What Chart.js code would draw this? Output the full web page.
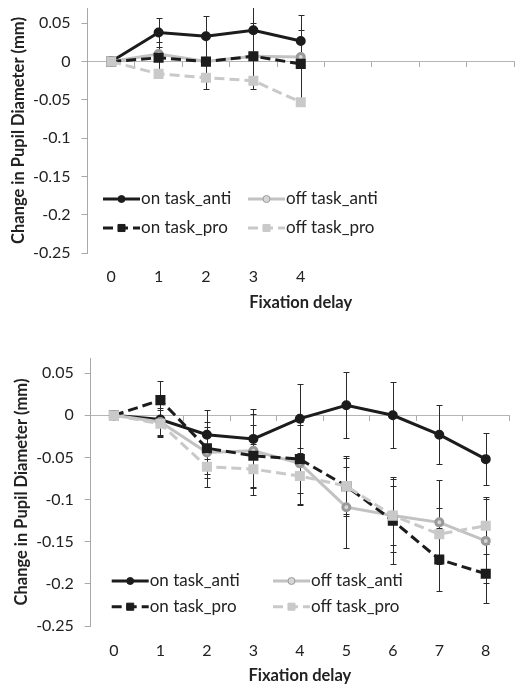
<!DOCTYPE html>
<html>
<head>
<meta charset="utf-8">
<title>Change in Pupil Diameter</title>
<script src="https://cdn.jsdelivr.net/npm/chart.js@4.4.1/dist/chart.umd.min.js"></script>
<style>
  html, body { margin: 0; padding: 0; background: #fff; overflow: hidden; }
  canvas { position: absolute; left: 0; }
  #topChart { top: 0; }
  #bottomChart { top: 340px; }
</style>
</head>
<body>
<canvas id="topChart" width="522" height="320"></canvas>
<canvas id="bottomChart" width="517" height="348"></canvas>
<script>
// categories (fixation delay)
const delays = ['0', '1', '2', '3', '4', '5', '6', '7', '8'];
const topDelays = ['0', '1', '2', '3', '4', '', '', '', ''];
const seriesNames = ['on task_anti', 'off task_anti', 'on task_pro', 'off task_pro'];
const yTickValues = [-0.25, -0.2, -0.15, -0.1, -0.05, 0, 0.05];

// top panel values
const topOnAnti = [0, 0.038, 0.033, 0.041, 0.027];
const topOffAnti = [0, 0.010, 0.000, 0.007, 0.006];
const topOnPro = [0, 0.005, 0.000, 0.007, -0.003];
const topOffPro = [0, -0.016, -0.021, -0.025, -0.053];
const topOnAntiErr = [0, 0.019, 0.027, 0.032, 0.034];
const topOnProErr = [0, 0.020, 0.036, 0.043, 0.044];

// bottom panel values
const onAnti = [0, -0.005, -0.023, -0.028, -0.004, 0.012, 0.000, -0.023, -0.052];
const offAnti = [0, -0.008, -0.044, -0.042, -0.057, -0.109, -0.119, -0.127, -0.149];
const onPro = [0, 0.018, -0.039, -0.048, -0.052, -0.084, -0.125, -0.171, -0.188];
const offPro = [0, -0.010, -0.061, -0.064, -0.072, -0.084, -0.119, -0.141, -0.131];
const onAntiErr = [0, 0.018, 0.029, 0.035, 0.041, 0.039, 0.039, 0.035, 0.031];
const offAntiErr = [0, 0.017, 0.030, 0.044, 0.049, 0.048, 0.035, 0.050, 0.050];
const onProErr = [0, 0.023, 0.031, 0.037, 0.040, 0.036, 0.052, 0.037, 0.035];
const offProErr = [0, 0.016, 0.024, 0.030, 0.033, 0.033, 0.043, 0.031, 0.034];

const FONT = 'Lato';
const TEXT = '#222';

// vertical error bars with caps, drawn under the lines
const errorBars = {
  id: 'errorBars',
  beforeDatasetsDraw(chart) {
    const { ctx, chartArea, scales: { x, y } } = chart;
    ctx.save();
    ctx.beginPath();
    ctx.rect(chartArea.left, chartArea.top, chartArea.right - chartArea.left, chartArea.bottom - chartArea.top);
    ctx.clip();
    ctx.strokeStyle = '#2a2a2a';
    ctx.lineWidth = 1;
    chart.data.datasets.forEach(ds => {
      if (!ds.errors) return;
      ds.data.forEach((v, i) => {
        const e = ds.errors[i];
        if (v == null || !e) return;
        const px = Math.round(x.getPixelForValue(i)) + 0.5;
        const yTop = Math.round(y.getPixelForValue(v + e)) + 0.5;
        const yBot = Math.round(y.getPixelForValue(v - e)) + 0.5;
        ctx.beginPath();
        ctx.moveTo(px, yTop); ctx.lineTo(px, yBot);
        ctx.moveTo(px - 3, yTop); ctx.lineTo(px + 3, yTop);
        ctx.moveTo(px - 3, yBot); ctx.lineTo(px + 3, yBot);
        ctx.stroke();
      });
    });
    ctx.restore();
  }
};

// legend inside the plot, 2 x 2, line sample with marker in the middle
const boxLegend = {
  id: 'boxLegend',
  afterDraw(chart, args, opts) {
    const ctx = chart.ctx;
    ctx.save();
    chart.data.datasets.forEach((ds, i) => {
      const x0 = opts.x[i % 2];
      const yy = opts.y[Math.floor(i / 2)];
      const x1 = x0 + opts.sample;
      ctx.strokeStyle = ds.borderColor;
      ctx.lineWidth = ds.borderWidth;
      ctx.setLineDash(ds.borderDash || []);
      ctx.beginPath();
      ctx.moveTo(x0, yy); ctx.lineTo(x1, yy);
      ctx.stroke();
      ctx.setLineDash([]);
      const mx = (x0 + x1) / 2;
      ctx.fillStyle = ds.pointBackgroundColor;
      ctx.strokeStyle = ds.pointBorderColor;
      ctx.lineWidth = 1;
      ctx.beginPath();
      if (ds.pointStyle === 'rect') {
        const s = ds.pointRadius * Math.SQRT1_2;
        ctx.rect(mx - s, yy - s, 2 * s, 2 * s);
      } else {
        ctx.arc(mx, yy, ds.pointRadius, 0, Math.PI * 2);
      }
      ctx.fill();
      ctx.stroke();
      ctx.fillStyle = TEXT;
      ctx.font = '17px ' + FONT;
      ctx.textBaseline = 'middle';
      ctx.fillText(ds.label, x1 + 1, yy);
    });
    ctx.restore();
  }
};

function makeDatasets(a, b, c, d, ea, eb, ec, ed) {
  return [
    { label: seriesNames[0], data: a, errors: ea, order: 4,
      borderColor: '#1c1c1c', borderWidth: 3,
      pointStyle: 'circle', pointRadius: 3.5, pointBackgroundColor: '#1c1c1c', pointBorderColor: '#1c1c1c' },
    { label: seriesNames[1], data: b, errors: eb, order: 3,
      borderColor: '#c2c2c2', borderWidth: 3,
      pointStyle: 'circle', pointRadius: 3.5, pointBackgroundColor: '#d6d6d6', pointBorderColor: '#9a9a9a' },
    { label: seriesNames[2], data: c, errors: ec, order: 2,
      borderColor: '#1c1c1c', borderWidth: 3, borderDash: [10, 5],
      pointStyle: 'rect', pointRadius: 5, pointBackgroundColor: '#1c1c1c', pointBorderColor: '#1c1c1c' },
    { label: seriesNames[3], data: d, errors: ed, order: 1,
      borderColor: '#c9c9c9', borderWidth: 3, borderDash: [10, 5],
      pointStyle: 'rect', pointRadius: 5, pointBackgroundColor: '#c9c9c9', pointBorderColor: '#c9c9c9' }
  ];
}

function makeOptions(cfg) {
  return {
    responsive: false,
    animation: false,
    events: [],
    layout: { padding: cfg.padding },
    elements: { line: { tension: 0 }, point: { borderWidth: 1, hoverRadius: 0 } },
    plugins: {
      legend: { display: false },
      tooltip: { enabled: false },
      boxLegend: cfg.legend
    },
    scales: {
      x: {
        type: 'category',
        offset: true,
        grid: { display: false, drawTicks: false },
        border: { display: false },
        ticks: { color: TEXT, font: { family: FONT, size: 16 }, padding: cfg.xPad, maxRotation: 0, autoSkip: false },
        title: { display: true, text: 'Fixation delay', color: TEXT, font: { family: FONT, size: 16.5, weight: 'bold' }, padding: 0 },
        afterFit(s) { s.height = cfg.xHeight; s.paddingLeft = 0; s.paddingRight = 0; }
      },
      x0: {
        type: 'category',
        axis: 'x',
        position: { y: 0 },
        offset: true,
        grid: { offset: true, drawOnChartArea: false, drawTicks: true, tickLength: 5, color: '#ababab' },
        border: { display: true, color: '#b5b5b5', width: 1 },
        ticks: { display: false },
        afterFit(s) { s.height = 0; s.paddingLeft = 0; s.paddingRight = 0; }
      },
      y: {
        min: -0.25,
        max: cfg.yMax,
        ticks: {
          color: TEXT, font: { family: FONT, size: 16 }, padding: 11,
          callback: v => String(Number(v.toFixed(2)))
        },
        grid: { drawOnChartArea: false, drawTicks: true, tickLength: 6, color: '#a8a8a8' },
        border: { display: true, color: '#a8a8a8' },
        title: {
          display: true, text: 'Change in Pupil Diameter (mm)', color: TEXT,
          font: { family: FONT, size: 16.5, weight: 'bold' }, padding: { top: cfg.yTitlePad, bottom: 0 }
        },
        afterBuildTicks(s) { s.ticks = yTickValues.map(v => ({ value: v })); },
        afterFit(s) { s.width = cfg.yWidth; s.paddingTop = 0; s.paddingBottom = 0; }
      }
    }
  };
}

new Chart(document.getElementById('topChart'), {
  type: 'line',
  data: {
    labels: topDelays,
    datasets: makeDatasets(topOnAnti, topOffAnti, topOnPro, topOffPro, topOnAntiErr, null, topOnProErr, null)
  },
  options: makeOptions({
    padding: { top: 5, right: 2.3, bottom: 7.8, left: 0 },
    yMax: 0.07, yWidth: 87.5, yTitlePad: 9.1,
    xPad: 14.1, xHeight: 59.2,
    legend: { x: [103, 248], y: [199, 228], sample: 37 }
  }),
  plugins: [errorBars, boxLegend]
});

new Chart(document.getElementById('bottomChart'), {
  type: 'line',
  data: {
    labels: delays,
    datasets: makeDatasets(onAnti, offAnti, onPro, offPro, onAntiErr, offAntiErr, onProErr, offProErr)
  },
  options: makeOptions({
    padding: { top: 18, right: 0.6, bottom: 2.4, left: 0 },
    yMax: 0.068, yWidth: 90.7, yTitlePad: 11.6,
    xPad: 15.7, xHeight: 59.6,
    legend: { x: [111.7, 273], y: [241, 266.7], sample: 37 }
  }),
  plugins: [errorBars, boxLegend]
});
</script>
</body>
</html>
